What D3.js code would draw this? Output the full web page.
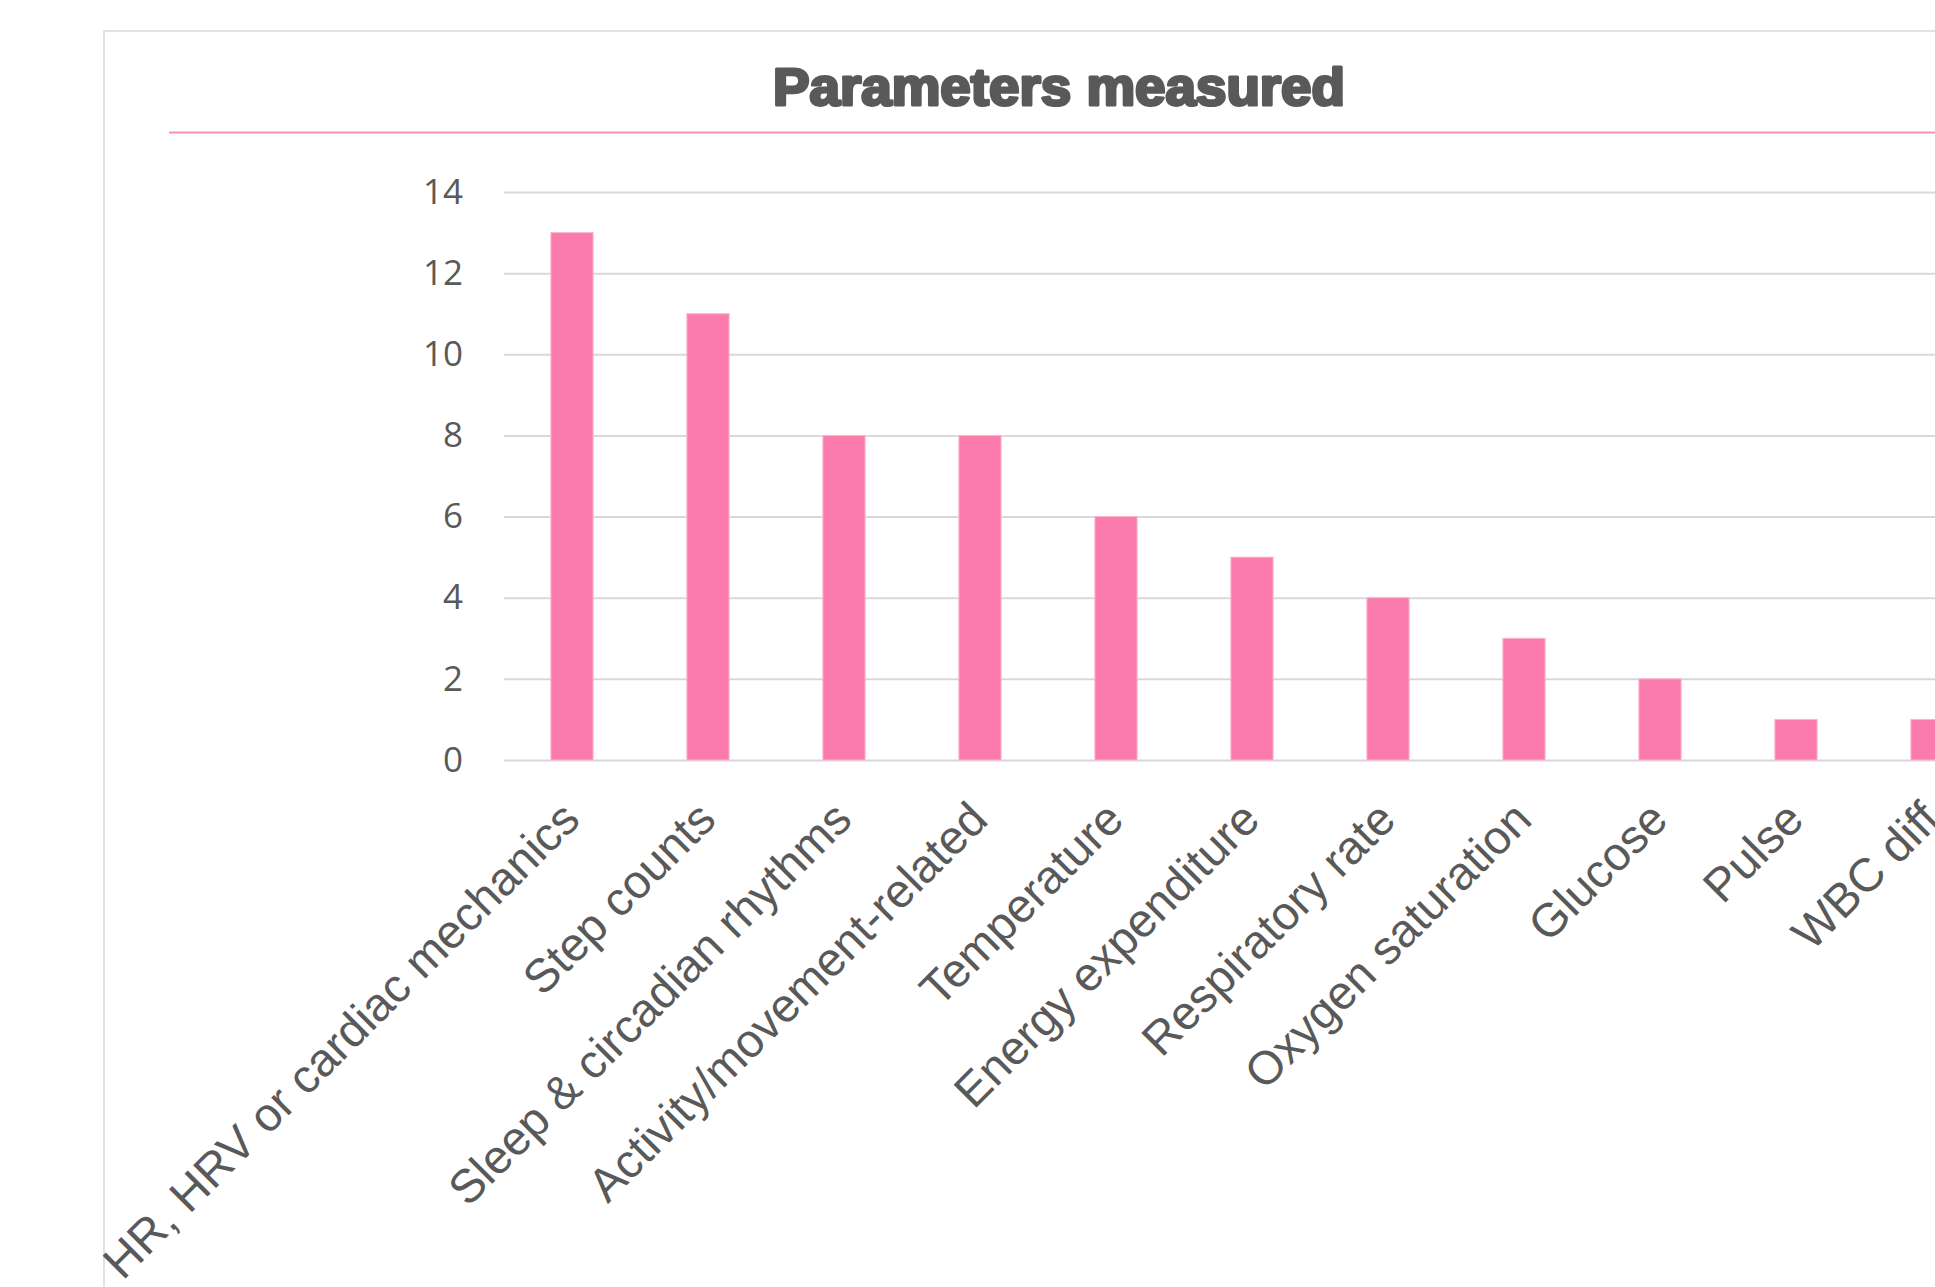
<!DOCTYPE html>
<html>
<head>
<meta charset="utf-8">
<script src="https://cdn.jsdelivr.net/npm/d3@7"></script>
<style>
  html, body { margin: 0; padding: 0; background: #fff; overflow: hidden; }
  svg { display: block; }
</style>
</head>
<body>
<div id="chart"></div>
<script>
var categories = [
  "HR, HRV or cardiac mechanics",
  "Step counts",
  "Sleep & circadian rhythms",
  "Activity/movement-related",
  "Temperature",
  "Energy expenditure",
  "Respiratory rate",
  "Oxygen saturation",
  "Glucose",
  "Pulse",
  "WBC diff"
];
var counts = [13, 11, 8, 8, 6, 5, 4, 3, 2, 1, 1];
var yTicks = [0, 2, 4, 6, 8, 10, 12, 14];
var title = "Parameters measured";

window.onload = () => {
  var W = 1935, H = 1287;
  var plot = { left: 504, right: 504 + 136 * categories.length, top: 192, bottom: 760 };

  var svg = d3.select("#chart").append("svg")
    .attr("width", W)
    .attr("height", H);

  // chart area frame (only top and left visible)
  svg.append("rect")
    .attr("x", 104).attr("y", 31)
    .attr("width", 2200).attr("height", 1500)
    .attr("fill", "none")
    .attr("stroke", "#d9d9d9")
    .attr("stroke-width", 1.5);

  svg.append("text")
    .attr("x", 1059).attr("y", 105)
    .attr("text-anchor", "middle")
    .attr("font-family", "Liberation Sans, Arial, sans-serif")
    .attr("font-weight", "bold")
    .attr("font-size", 51)
    .attr("fill", "#595959")
    .attr("stroke", "#595959")
    .attr("stroke-width", 3)
    .attr("stroke-linejoin", "round")
    .attr("textLength", 572)
    .attr("lengthAdjust", "spacingAndGlyphs")
    .text(title);

  svg.append("line")
    .attr("x1", 169).attr("x2", W + 10)
    .attr("y1", 132.5).attr("y2", 132.5)
    .attr("stroke", "#f590b8")
    .attr("stroke-width", 2);

  var x = d3.scaleBand()
    .domain(categories)
    .range([plot.left, plot.right])
    .paddingInner(0.69)
    .paddingOuter(0.345);

  var y = d3.scaleLinear()
    .domain([0, 14])
    .range([plot.bottom, plot.top]);

  // gridlines + y labels
  var gy = svg.append("g")
    .attr("transform", "translate(" + plot.left + ",0)")
    .call(d3.axisLeft(y)
      .tickValues(yTicks)
      .tickSize(-(plot.right - plot.left))
      .tickPadding(41));
  gy.select(".domain").remove();
  gy.selectAll(".tick line")
    .attr("stroke", "#d9d9d9")
    .attr("stroke-width", 2);
  gy.selectAll(".tick text")
    .attr("fill", "#595959")
    .attr("font-family", "Open Sans, sans-serif")
    .attr("font-size", 35);

  svg.append("g")
    .selectAll("rect")
    .data(counts)
    .join("rect")
      .attr("x", (d, i) => x(categories[i]))
      .attr("y", d => y(d))
      .attr("width", x.bandwidth())
      .attr("height", d => y(0) - y(d))
      .attr("fill", "#fa7bac")
      .attr("stroke", "#fcb3cf")
      .attr("stroke-width", 1);

  // category labels, rotated
  var gx = svg.append("g")
    .attr("transform", "translate(0," + plot.bottom + ")")
    .call(d3.axisBottom(x).tickSize(0).tickPadding(0));
  gx.select(".domain").remove();
  gx.selectAll(".tick text")
    .attr("fill", "#595959")
    .attr("font-family", "Liberation Sans, Arial, sans-serif")
    .attr("font-size", 47)
    .attr("text-anchor", "end")
    .attr("dy", null)
    .attr("y", 0)
    .attr("transform", "translate(10,62) rotate(-45)");
};
</script>
</body>
</html>
